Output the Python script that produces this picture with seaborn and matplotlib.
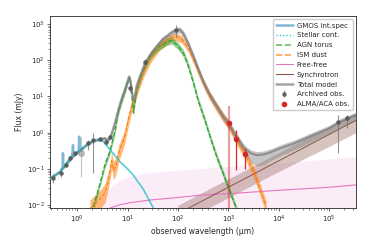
import matplotlib
matplotlib.use("Agg")
import matplotlib.pyplot as plt
import seaborn as sns
from matplotlib.lines import Line2D

# ---- data (wavelength in um, flux in mJy) ----
stellar_wl = [0.29, 0.32, 0.46, 0.6, 0.79, 1.0, 1.3, 1.7, 2.3, 2.8, 3.3, 4.5, 5.5, 7.1, 10, 13, 21, 33, 40]
stellar_flux = [0.052, 0.057, 0.083, 0.13, 0.21, 0.28, 0.38, 0.51, 0.62, 0.63, 0.57, 0.34, 0.24, 0.157, 0.1, 0.067, 0.026, 0.008, 0.0045]

gmos_wl = [0.48, 0.50, 0.515, 0.525, 0.535, 0.56, 0.62, 0.68, 0.74, 0.79, 0.815, 0.83, 0.845, 0.87,
           0.92, 0.98, 1.04, 1.08, 1.10, 1.12, 1.16, 1.22, 1.30]
gmos_flux = [0.095, 0.10, 0.11, 0.27, 0.11, 0.12, 0.14, 0.17, 0.2, 0.22, 0.3, 0.45, 0.24, 0.23,
             0.25, 0.27, 0.29, 0.32, 0.77, 0.33, 0.32, 0.34, 0.37]

green_wl = [2.1, 2.8, 3.55, 4.45, 5.6, 6.5, 7.1, 8.8, 10.0, 10.6, 11.2, 11.9, 12.5, 13.1, 13.8, 15, 17.5,
            20.7, 28, 38, 60, 75, 100, 130, 160, 200, 250, 350, 450, 600, 800, 1000, 1400, 1600]
green_flux = [0.009, 0.036, 0.127, 0.3, 1.06, 3.5, 5.5, 14, 25, 32, 28, 15, 7, 3.5, 6, 14, 28,
              55, 130, 210, 320, 350, 250, 150, 70, 25, 8, 2, 0.65, 0.2, 0.07, 0.03, 0.009, 0.005]
green_lo = [0.007, 0.029, 0.1, 0.24, 0.85, 2.8, 4.4, 11, 20, 26, 22, 12, 5.6, 2.8, 4.8, 11, 22,
            44, 104, 168, 256, 280, 200, 120, 56, 20, 6.4, 1.6, 0.52, 0.16, 0.056, 0.024, 0.0072, 0.004]
green_hi = [0.011, 0.045, 0.16, 0.38, 1.33, 4.4, 6.9, 17.5, 31, 40, 35, 19, 8.8, 4.4, 7.5, 17.5, 35,
            69, 163, 263, 400, 438, 313, 188, 88, 31, 10, 2.5, 0.81, 0.25, 0.088, 0.038, 0.011, 0.0063]

ism_wl = [1.8, 2.9, 3.6, 4.3, 4.85, 5.3, 5.9, 6.7, 7.6, 8.8, 10.3, 11.9, 14, 16.2, 20.4, 28, 44, 70, 92,
          121, 160, 200, 250, 321, 420, 590, 800, 1000, 1410, 2150, 3000, 4000, 5600]
ism_flux = [0.008, 0.015, 0.022, 0.06, 0.17, 0.09, 0.12, 0.28, 0.45, 0.8, 2.2, 5, 9.8, 18.7, 43, 110, 260, 400, 450,
            370, 220, 110, 52, 23, 11, 5.0, 2.6, 1.7, 0.7, 0.25, 0.1, 0.035, 0.009]
ism_lo = [0.004, 0.008, 0.012, 0.035, 0.1, 0.05, 0.07, 0.16, 0.27, 0.5, 1.4, 3.3, 6.5, 13, 31, 80, 195, 310, 350,
          290, 170, 85, 40, 17.5, 8.2, 3.7, 1.9, 1.25, 0.5, 0.18, 0.07, 0.024, 0.006]
ism_hi = [0.014, 0.026, 0.04, 0.1, 0.28, 0.16, 0.2, 0.45, 0.7, 1.2, 3.3, 7.2, 14, 26, 58, 145, 340, 510, 570,
          470, 280, 140, 67, 30, 14.5, 6.6, 3.5, 2.3, 0.95, 0.34, 0.14, 0.05, 0.013]

ff_wl = [2.5, 3.5, 4.5, 7, 12, 28, 100, 305, 1200, 12000, 100000, 340000]
ff_flux = [0.003, 0.006, 0.0083, 0.0102, 0.0118, 0.0138, 0.0162, 0.019, 0.021, 0.026, 0.031, 0.036]
ff_lo = [0.001] * 12
ff_hi = [0.008, 0.018, 0.032, 0.048, 0.064, 0.08, 0.092, 0.103, 0.12, 0.145, 0.19, 0.22]

sync_wl = [100, 1000, 10000, 100000, 340000]
sync_flux = [0.0058, 0.031, 0.167, 0.89, 2.2]
sync_lo = [0.003, 0.016, 0.085, 0.42, 1.0]
sync_hi = [0.0099, 0.053, 0.28, 1.5, 3.7]

total_wl = [0.29, 0.46, 0.79, 1.0, 1.7, 2.3, 2.7, 3.55, 4.1, 4.8, 5.6, 6.5, 7.6, 8.8, 10.0, 10.6, 11.2, 11.9,
            12.5, 13.1, 13.8, 15.0, 17.5, 22, 30, 38, 50, 60, 75, 95, 110, 130, 160, 200, 250, 320, 420, 590,
            800, 1000, 1400, 2100, 2800, 3600, 5000, 7000, 10700, 20000, 49000, 100000, 170000, 340000]
total_flux = [0.055, 0.083, 0.21, 0.28, 0.51, 0.62, 0.64, 0.70, 0.6, 0.9, 1.8, 4.0, 8.5, 15, 26, 34, 30, 19,
              11, 7.5, 9, 18.7, 35, 80, 160, 240, 380, 450, 580, 680, 690, 520, 290, 135, 60, 25, 11.5, 5.3,
              2.7, 1.8, 0.8, 0.36, 0.27, 0.24, 0.25, 0.29, 0.37, 0.5, 0.86, 1.3, 2.0, 3.0]
total_lo = [0.05, 0.076, 0.19, 0.255, 0.46, 0.56, 0.58, 0.62, 0.52, 0.75, 1.45, 3.2, 6.8, 12, 21, 28, 24, 15,
            8.5, 5.8, 7, 15, 28, 65, 130, 195, 310, 370, 475, 560, 565, 425, 235, 110, 48, 20, 9, 4.2,
            2.1, 1.4, 0.6, 0.25, 0.15, 0.12, 0.13, 0.17, 0.23, 0.33, 0.6, 0.95, 1.4, 2.1]
total_hi = [0.06, 0.09, 0.23, 0.31, 0.56, 0.68, 0.7, 0.78, 0.68, 1.05, 2.2, 5, 10.5, 18.5, 32, 41, 37, 24,
            14, 9.5, 11.5, 23, 43, 98, 195, 290, 460, 545, 700, 820, 830, 630, 350, 165, 74, 31, 14, 6.5,
            3.4, 2.3, 1.05, 0.45, 0.33, 0.3, 0.31, 0.36, 0.46, 0.62, 1.05, 1.6, 2.5, 3.6]

arch_wl = [0.334, 0.47, 0.61, 0.73, 0.9, 1.65, 2.08, 2.82, 3.81, 4.45, 11.1, 22.3, 92, 150000, 224000]
arch_flux = [0.057, 0.075, 0.127, 0.195, 0.27, 0.51, 0.62, 0.67, 0.56, 0.75, 16.7, 91, 680, 2.0, 2.5]
arch_lo = [0.04, 0.06, 0.11, 0.17, 0.24, 0.33, 0.077, 0.6, 0.47, 0.65, 13, 75, 450, 0.27, 1.35]
arch_hi = [0.07, 0.09, 0.145, 0.22, 0.3, 0.62, 1.0, 0.75, 0.66, 0.86, 21, 110, 930, 3.1, 3.1]

flag_wl = [1.22]
flag_flux = [0.27]
flag_lo = [0.06]
flag_hi = [0.76]

alma_wl = [1037, 1410, 2155]
alma_flux = [1.8, 0.65, 0.25]
alma_lo = [0.001, 0.092, 0.1]
alma_hi = [5.4, 1.18, 0.37]

# colours
c_gmos = '#1f77b4'
c_star = '#17becf'
c_agn = '#2ca02c'
c_ism = '#ff7f0e'
c_ff = '#e377c2'
c_sync = '#8c564b'
c_tot = '#7f7f7f'
c_alma = '#d62728'

sns.set_style("ticks")
plt.rcParams['font.family'] = ['DejaVu Sans']

fig = plt.figure(figsize=(3.83, 2.4), dpi=100)
ax = fig.add_axes([0.1305, 0.1333, 0.799, 0.80])
ax.set_xscale('log')
ax.set_yscale('log')

# uncertainty bands
ax.fill_between(ff_wl, ff_lo, ff_hi, color=c_ff, alpha=0.13, lw=0, zorder=1)
ax.fill_between(sync_wl, sync_lo, sync_hi, color=c_sync, alpha=0.35, lw=0, zorder=2)
ax.fill_between(ism_wl, ism_lo, ism_hi, color=c_ism, alpha=0.55, lw=0, zorder=2)
ax.fill_between(green_wl, green_lo, green_hi, color=c_agn, alpha=0.5, lw=0, zorder=2)
ax.fill_between(total_wl, total_lo, total_hi, color=c_tot, alpha=0.45, lw=0, zorder=3)

# model components
sns.lineplot(x=ff_wl, y=ff_flux, ax=ax, color=c_ff, lw=0.8, zorder=4)
sns.lineplot(x=sync_wl, y=sync_flux, ax=ax, color=c_sync, lw=0.7, zorder=4)
sns.lineplot(x=green_wl, y=green_flux, ax=ax, color=c_agn, lw=0.9, ls='--', zorder=4)
sns.lineplot(x=ism_wl, y=ism_flux, ax=ax, color=c_ism, lw=0.8, ls='--', zorder=4)
sns.lineplot(x=gmos_wl, y=gmos_flux, ax=ax, color=c_gmos, lw=1.8, alpha=0.55, zorder=5)
sns.lineplot(x=total_wl, y=total_flux, ax=ax, color=c_tot, lw=1.6, alpha=0.75, zorder=5)
sns.lineplot(x=stellar_wl, y=stellar_flux, ax=ax, color=c_star, lw=1.2, alpha=0.75, zorder=5)

# observations
arch_err = [[f - lo for f, lo in zip(arch_flux, arch_lo)], [hi - f for f, hi in zip(arch_flux, arch_hi)]]
h_arch = ax.errorbar(arch_wl, arch_flux, yerr=arch_err, fmt='o', ms=2.3, color='#555555',
                     ecolor='#777777', elinewidth=0.8, alpha=0.8, zorder=6)
flag_err = [[flag_flux[0] - flag_lo[0]], [flag_hi[0] - flag_flux[0]]]
ax.errorbar(flag_wl, flag_flux, yerr=flag_err, fmt='o', ms=4, color='#888888',
            ecolor='#888888', elinewidth=0.8, alpha=0.5, zorder=6)
ax.errorbar(alma_wl[:1], alma_flux[:1], yerr=[[alma_flux[0] - alma_lo[0]], [alma_hi[0] - alma_flux[0]]],
            fmt='none', ecolor=c_alma, elinewidth=1.6, alpha=0.45, zorder=6)
alma_err = [[f - lo for f, lo in zip(alma_flux[1:], alma_lo[1:])],
            [hi - f for f, hi in zip(alma_flux[1:], alma_hi[1:])]]
ax.errorbar(alma_wl[1:], alma_flux[1:], yerr=alma_err, fmt='none', ecolor=c_alma, elinewidth=0.9, zorder=7)
h_alma = ax.errorbar(alma_wl, alma_flux, fmt='o', ms=3, color=c_alma, zorder=8)

ax.set_xlim(0.29, 3.4e5)
ax.set_ylim(0.0083, 1660)
ax.set_xlabel('observed wavelength (μm)', fontsize=5.5, labelpad=1.5)
ax.set_ylabel('Flux (mJy)', fontsize=5.5, labelpad=2)
ax.tick_params(axis='both', which='major', labelsize=5, length=2.5, width=0.5, pad=1.5)
ax.tick_params(axis='both', which='minor', length=1.5, width=0.4)
for s in ax.spines.values():
    s.set_linewidth(0.6)

handles = [
    Line2D([], [], color=c_gmos, lw=1.8, alpha=0.55),
    Line2D([], [], color=c_star, lw=0.9, ls=':'),
    Line2D([], [], color=c_agn, lw=1.2, ls='--', alpha=0.7),
    Line2D([], [], color=c_ism, lw=1.2, ls='--', alpha=0.7),
    Line2D([], [], color=c_ff, lw=0.8),
    Line2D([], [], color=c_sync, lw=0.8),
    Line2D([], [], color=c_tot, lw=1.8, alpha=0.7),
    h_arch,
    h_alma,
]
labels = ['GMOS int.spec', 'Stellar cont.', 'AGN torus', 'ISM dust', 'Free-free', 'Synchrotron',
          'Total model', 'Archived obs.', 'ALMA/ACA obs.']
ax.legend(handles, labels, loc='upper right', fontsize=5, handlelength=2.4, labelspacing=0.55,
          borderpad=0.45, handletextpad=0.6, frameon=True, framealpha=1)

fig.savefig('out.png', dpi=100)
